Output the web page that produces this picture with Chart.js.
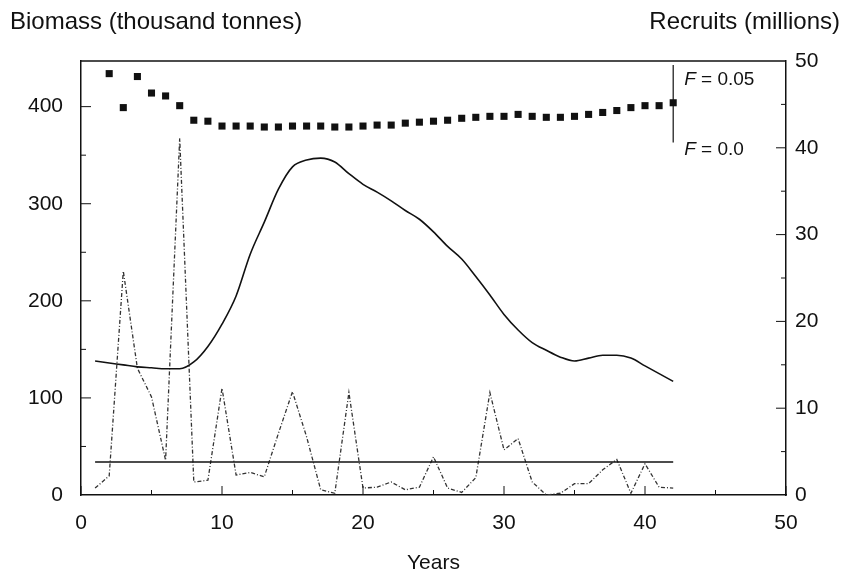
<!DOCTYPE html>
<html>
<head>
<meta charset="utf-8">
<title>Biomass and recruits</title>
<script src="https://cdn.jsdelivr.net/npm/chart.js@4.4.1/dist/chart.umd.min.js"></script>
<style>
  html, body { margin: 0; padding: 0; background: #fff; }
  #wrap { width: 843px; height: 577px; }
</style>
</head>
<body>
<div id="wrap"><canvas id="js--chart--biomass" width="843" height="577"></canvas></div>
<script>
// data
const years = [1, 2, 3, 4, 5, 6, 7, 8, 9, 10, 11, 12, 13, 14, 15, 16, 17, 18, 19, 20, 21,
  22, 23, 24, 25, 26, 27, 28, 29, 30, 31, 32, 33, 34, 35, 36, 37, 38, 39, 40, 41, 42];

// biomass, thousand tonnes (solid line)
const biomass = [138, 136, 134, 132, 131, 130, 130, 137, 153, 176, 205, 248, 281, 315, 338, 345,
  347, 343, 331, 320, 312, 303, 293, 284, 271, 256, 243, 225, 206, 186, 170, 157, 149, 142,
  138, 141, 144, 144, 141, 133, 125, 117];

// recruits, millions (dashed line)
const recruits = [0.8, 2.2, 25.8, 14.6, 11.3, 4.0, 41.1, 1.5, 1.7, 12.3, 2.3, 2.6, 2.1, 7.1,
  11.9, 6.7, 0.6, 0.2, 11.8, 0.8, 0.9, 1.5, 0.6, 0.9, 4.4, 0.8, 0.3, 2.0, 11.8, 5.2, 6.5, 1.5,
  0, 0.2, 1.3, 1.3, 2.9, 4.1, 0.2, 3.6, 0.9, 0.8];

// biomass with F = 0.05 (squares)
const fYears = [2, 3, 4, 5, 6, 7, 8, 9, 10, 11, 12, 13, 14, 15, 16, 17, 18, 19, 20, 21, 22,
  23, 24, 25, 26, 27, 28, 29, 30, 31, 32, 33, 34, 35, 36, 37, 38, 39, 40, 41, 42];
const fBiomass = [434, 399, 431, 414, 411, 401, 386, 385, 380, 380, 380, 379, 379, 380, 380,
  380, 379, 379, 380, 381, 381, 383, 384, 385, 386, 388, 389, 390, 390, 392, 390, 389, 389,
  390, 392, 394, 396, 399, 401, 401, 404];

// flat reference line
const refYears = [1, 42];
const refLevel = [34, 34];

// ticks
const xTicks = [0, 10, 20, 30, 40, 50];
const leftTicks = [0, 100, 200, 300, 400];
const rightTicks = [0, 10, 20, 30, 40, 50];

// F marker (vertical bar at the end of the squares)
const fMark = { year: 42, top: 443, bottom: 363 };

function points(xs, ys) {
  return xs.map((x, i) => ({ x: x, y: ys[i] }));
}

const FONT = '"Liberation Sans", Arial, sans-serif';
Chart.defaults.font.family = FONT;
Chart.defaults.font.size = 21;
Chart.defaults.color = '#111';

// frame, inward ticks, top titles and F labels
const extras = {
  id: 'extras',
  afterDraw(chart) {
    const ctx = chart.ctx;
    const a = chart.chartArea;
    const x = chart.scales.x;
    const yl = chart.scales.y;
    const yr = chart.scales.y2;
    ctx.save();
    ctx.strokeStyle = '#111';
    ctx.lineWidth = 1.5;
    ctx.beginPath();
    ctx.moveTo(a.left, a.top);
    ctx.lineTo(a.right, a.top);
    ctx.stroke();

    ctx.lineWidth = 1;
    ctx.beginPath();
    for (let v = 0; v <= 50; v += 5) {
      const px = x.getPixelForValue(v);
      const len = v % 10 === 0 ? 9 : 5;
      ctx.moveTo(px, a.bottom);
      ctx.lineTo(px, a.bottom - len);
    }
    for (let v = 50; v <= 400; v += 50) {
      const py = yl.getPixelForValue(v);
      const len = v % 100 === 0 ? 10 : 5;
      ctx.moveTo(a.left, py);
      ctx.lineTo(a.left + len, py);
    }
    for (let v = 5; v <= 45; v += 5) {
      const py = yr.getPixelForValue(v);
      const len = v % 10 === 0 ? 10 : 5;
      ctx.moveTo(a.right, py);
      ctx.lineTo(a.right - len, py);
    }
    ctx.stroke();

    ctx.fillStyle = '#111';
    ctx.font = '24px ' + FONT;
    ctx.textBaseline = 'alphabetic';
    ctx.textAlign = 'left';
    ctx.fillText('Biomass (thousand tonnes)', 10, 29);
    ctx.textAlign = 'right';
    ctx.fillText('Recruits (millions)', 840, 29);

    // F bar
    const fx = x.getPixelForValue(fMark.year);
    const ft = yl.getPixelForValue(fMark.top);
    const fb = yl.getPixelForValue(fMark.bottom);
    ctx.lineWidth = 1.2;
    ctx.beginPath();
    ctx.moveTo(fx, ft);
    ctx.lineTo(fx, fb);
    ctx.stroke();

    ctx.textAlign = 'left';
    ctx.textBaseline = 'middle';
    const labels = [['0.05', ft + 15], ['0.0', fb + 7]];
    labels.forEach(function (l) {
      let tx = fx + 11;
      ctx.font = 'italic 19px ' + FONT;
      ctx.fillText('F', tx, l[1]);
      tx += ctx.measureText('F').width;
      ctx.font = '19px ' + FONT;
      ctx.fillText(' = ' + l[0], tx, l[1]);
    });
    ctx.restore();
  }
};

const data = {
  datasets: [
    {
      label: 'F = 0.05',
      data: points(fYears, fBiomass),
      yAxisID: 'y',
      showLine: false,
      pointStyle: 'rect',
      pointRadius: 5,
      pointBackgroundColor: '#111',
      pointBorderWidth: 0
    },
    {
      label: 'Biomass',
      data: points(years, biomass),
      yAxisID: 'y',
      borderColor: '#111',
      borderWidth: 1.6,
      pointRadius: 0,
      cubicInterpolationMode: 'monotone'
    },
    {
      label: 'Reference',
      data: points(refYears, refLevel),
      yAxisID: 'y',
      borderColor: '#111',
      borderWidth: 1.5,
      pointRadius: 0
    },
    {
      label: 'Recruits',
      data: points(years, recruits),
      yAxisID: 'y2',
      borderColor: '#333',
      borderWidth: 1.3,
      borderDash: [4, 2, 1, 2],
      pointRadius: 0,
      tension: 0
    }
  ]
};

const config = {
  type: 'line',
  data: data,
  options: {
    responsive: false,
    animation: false,
    layout: { padding: { top: 61, left: 0, right: 0, bottom: 0 } },
    plugins: { legend: { display: false }, tooltip: { enabled: false } },
    scales: {
      x: {
        type: 'linear',
        min: 0,
        max: 50,
        afterBuildTicks: (s) => { s.ticks = xTicks.map(v => ({ value: v })); },
        afterFit: (s) => { s.height = 82; },
        grid: { display: true, drawOnChartArea: false, drawTicks: false },
        border: { color: '#111', width: 1.5 },
        ticks: { padding: 16, maxRotation: 0, autoSkip: false },
        title: { display: true, text: 'Years', padding: { top: 0, bottom: 1 } }
      },
      y: {
        position: 'left',
        min: 0,
        max: 447,
        afterBuildTicks: (s) => { s.ticks = leftTicks.map(v => ({ value: v })); },
        afterFit: (s) => { s.width = 81; },
        grid: { display: true, drawOnChartArea: false, drawTicks: false },
        border: { color: '#111', width: 1.5 },
        ticks: { padding: 18 }
      },
      y2: {
        position: 'right',
        min: 0,
        max: 50,
        afterBuildTicks: (s) => { s.ticks = rightTicks.map(v => ({ value: v })); },
        afterFit: (s) => { s.width = 57; },
        grid: { display: true, drawOnChartArea: false, drawTicks: false },
        border: { color: '#111', width: 1.5 },
        ticks: { padding: 9 }
      }
    }
  },
  plugins: [extras]
};

new Chart(document.getElementById('js--chart--biomass'), config);
</script>
</body>
</html>
